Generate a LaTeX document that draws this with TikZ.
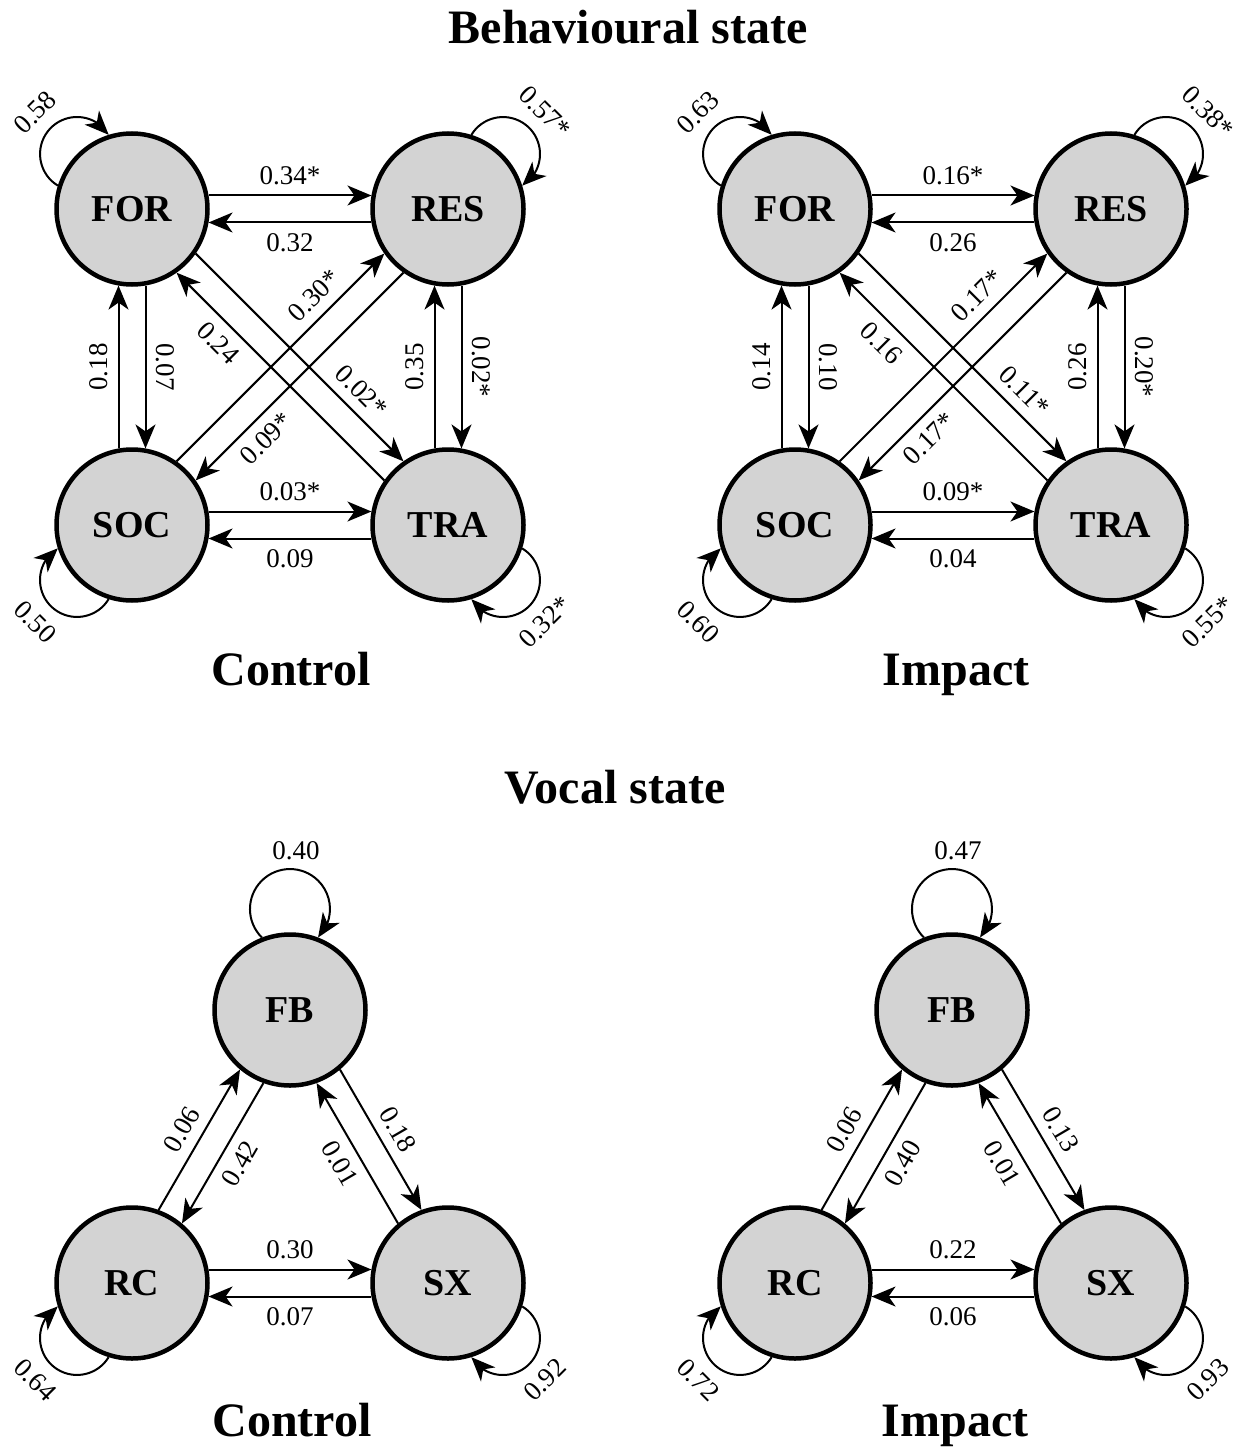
\documentclass[tikz,border=0pt]{standalone}
\usepackage{fontspec}
\setmainfont{Liberation Serif}
\usetikzlibrary{arrows.meta,bending,calc}
\definecolor{nodegray}{RGB}{211,211,211}
\tikzset{
  state/.style={circle, draw, line width=4.5pt, fill=nodegray, minimum size=151pt, inner sep=0pt, font=\fontsize{38}{40}\selectfont\bfseries},
  edge/.style={line width=2pt, -{Stealth[length=24pt,width=20pt,inset=7pt]}},
  lab/.style={font=\fontsize{27}{29}\selectfont, sloped, inner sep=10pt},
  looplab/.style={font=\fontsize{27}{29}\selectfont, inner sep=0pt},
  title/.style={font=\fontsize{48}{50}\selectfont\bfseries, anchor=base, inner sep=0pt},
  tkside/.style={above},
}
\newcommand\tedge[5]{%
  \pgfmathtruncatemacro\tkSA{mod(#3+370,360)}%
  \pgfmathtruncatemacro\tkEA{mod(#3+170+360,360)}%
  \ifnum#3>90 \ifnum#3<270 \tikzset{tkside/.style={below}}\else\tikzset{tkside/.style={above}}\fi
  \else\tikzset{tkside/.style={above}}\fi
  \draw[edge] (#1.\tkSA) -- node[lab, tkside, pos=#5] {#4} (#2.\tkEA);%
}
\newcommand\cloop[3]{%
  \pgfmathsetmacro\tkLA{#2+27.5}%
  \pgfmathsetmacro\tkLB{#2+103.75}%
  \pgfmathsetmacro\tkLR{ifthenelse(#2-90>90, #2-270, #2-90)}%
  \draw[edge] ([shift={(\tkLA:77.75)}]#1.center) arc[start angle=\tkLB, delta angle=-207.5, radius=37];%
  \node[looplab, rotate=\tkLR] (#1lab) at ([shift={(#2:137)}]#1.center) {#3};%
}
\newcommand\tloop[2]{%
  \draw[edge] ([shift={(111.2:77.75)}]#1.center) arc[start angle=225.4, delta angle=-270.8, radius=40];%
  \node[looplab] (#1lab) at ([shift={(6,159)}]#1.center) {#2};%
}
\begin{document}
\begin{tikzpicture}[x=1pt,y=1pt]
\useasboundingbox (0,0) rectangle (1246,-1447);
% titles
\node[title] (t1) at (628,-44) {Behavioural state};
\node[title] (capC1) at (291,-685) {Control};
\node[title] (capI1) at (956,-685) {Impact};
\node[title] (t2) at (615,-803) {Vocal state};
\node[title] (capC2) at (292,-1436) {Control};
\node[title] (capI2) at (955,-1436) {Impact};
% ---------- behavioural, control
\node[state] (cFOR) at (132,-209) {FOR};
\node[state] (cRES) at (448,-209) {RES};
\node[state] (cSOC) at (132,-525) {SOC};
\node[state] (cTRA) at (448,-525) {TRA};
\tedge{cFOR}{cRES}{0}{0.34*}{0.5}
\tedge{cRES}{cFOR}{180}{0.32}{0.5}
\tedge{cSOC}{cFOR}{90}{0.18}{0.5}
\tedge{cFOR}{cSOC}{270}{0.07}{0.5}
\tedge{cTRA}{cFOR}{135}{0.24}{0.73}
\tedge{cFOR}{cTRA}{315}{0.02*}{0.73}
\tedge{cSOC}{cRES}{45}{0.30*}{0.73}
\tedge{cRES}{cSOC}{225}{0.09*}{0.73}
\tedge{cTRA}{cRES}{90}{0.35}{0.5}
\tedge{cRES}{cTRA}{270}{0.02*}{0.5}
\tedge{cSOC}{cTRA}{0}{0.03*}{0.5}
\tedge{cTRA}{cSOC}{180}{0.09}{0.5}
\cloop{cFOR}{135}{0.58}
\cloop{cRES}{45}{0.57*}
\cloop{cSOC}{225}{0.50}
\cloop{cTRA}{315}{0.32*}
% ---------- behavioural, impact
\node[state] (iFOR) at (795,-209) {FOR};
\node[state] (iRES) at (1111,-209) {RES};
\node[state] (iSOC) at (795,-525) {SOC};
\node[state] (iTRA) at (1111,-525) {TRA};
\tedge{iFOR}{iRES}{0}{0.16*}{0.5}
\tedge{iRES}{iFOR}{180}{0.26}{0.5}
\tedge{iSOC}{iFOR}{90}{0.14}{0.5}
\tedge{iFOR}{iSOC}{270}{0.10}{0.5}
\tedge{iTRA}{iFOR}{135}{0.16}{0.73}
\tedge{iFOR}{iTRA}{315}{0.11*}{0.73}
\tedge{iSOC}{iRES}{45}{0.17*}{0.73}
\tedge{iRES}{iSOC}{225}{0.17*}{0.73}
\tedge{iTRA}{iRES}{90}{0.26}{0.5}
\tedge{iRES}{iTRA}{270}{0.20*}{0.5}
\tedge{iSOC}{iTRA}{0}{0.09*}{0.5}
\tedge{iTRA}{iSOC}{180}{0.04}{0.5}
\cloop{iFOR}{135}{0.63}
\cloop{iRES}{45}{0.38*}
\cloop{iSOC}{225}{0.60}
\cloop{iTRA}{315}{0.55*}
% ---------- vocal, control
\node[state] (cFB) at (290,-1010) {FB};
\node[state] (cRC) at (132,-1283) {RC};
\node[state] (cSX) at (448,-1283) {SX};
\tedge{cRC}{cFB}{60}{0.06}{0.5}
\tedge{cFB}{cRC}{240}{0.42}{0.5}
\tedge{cFB}{cSX}{300}{0.18}{0.5}
\tedge{cSX}{cFB}{120}{0.01}{0.5}
\tedge{cRC}{cSX}{0}{0.30}{0.5}
\tedge{cSX}{cRC}{180}{0.07}{0.5}
\tloop{cFB}{0.40}
\cloop{cRC}{225}{0.64}
\cloop{cSX}{315}{0.92}
% ---------- vocal, impact
\node[state] (iFB) at (952,-1010) {FB};
\node[state] (iRC) at (795,-1283) {RC};
\node[state] (iSX) at (1111,-1283) {SX};
\tedge{iRC}{iFB}{60}{0.06}{0.5}
\tedge{iFB}{iRC}{240}{0.40}{0.5}
\tedge{iFB}{iSX}{300}{0.13}{0.5}
\tedge{iSX}{iFB}{120}{0.01}{0.5}
\tedge{iRC}{iSX}{0}{0.22}{0.5}
\tedge{iSX}{iRC}{180}{0.06}{0.5}
\tloop{iFB}{0.47}
\cloop{iRC}{225}{0.72}
\cloop{iSX}{315}{0.93}
\end{tikzpicture}
\end{document}
